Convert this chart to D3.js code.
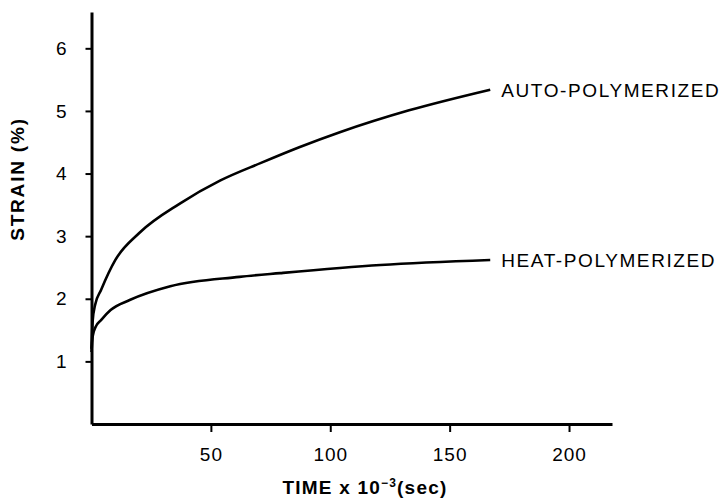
<!DOCTYPE html>
<html lang="en">
<head>
    <meta charset="UTF-8">
    <title>Strain vs Time</title>
    <script src="https://d3js.org/d3.v7.min.js"></script>
    <style>
        body { margin: 0; background: #fff; }
        text { font-family: "Liberation Sans", Arial, sans-serif; fill: #000; }
        .tick-label { font-size: 19px; letter-spacing: 1px; }
        .curve-label { font-size: 19px; letter-spacing: 1.6px; }
        .axis-title { font-size: 19px; font-weight: bold; letter-spacing: 1.2px; }
        .y-title { letter-spacing: 1.8px; }
    </style>
</head>
<body>
<div id="chart"></div>
<script>
    // time in 10^3 sec, strain in %
    const autoTime   = [0, 0.5, 1.5, 4, 10, 20, 37, 54, 71, 87, 104, 133, 167];
    const autoStrain = [1.2, 1.65, 1.9, 2.14, 2.62, 3.05, 3.52, 3.89, 4.17, 4.42, 4.66, 5.01, 5.34];

    const heatTime   = [0, 0.5, 1.7, 4, 8, 16, 33, 62, 79, 121, 167];
    const heatStrain = [1.15, 1.4, 1.55, 1.66, 1.82, 1.98, 2.2, 2.35, 2.41, 2.54, 2.62];

    const xTicks = [50, 100, 150, 200];
    const yTicks = [1, 2, 3, 4, 5, 6];
    const seriesNames = ["AUTO-POLYMERIZED", "HEAT-POLYMERIZED"];

    const width = 724, height = 498;

    const svg = d3.select("#chart")
        .append("svg")
        .attr("width", width)
        .attr("height", height);

    const x = d3.scaleLinear().domain([0, 218]).range([91.5, 612]);
    const y = d3.scaleLinear().domain([0, 6.58]).range([424, 12]);

    // x axis
    const xAxis = svg.append("g")
        .attr("transform", `translate(0,${y(0)})`)
        .call(d3.axisBottom(x).tickValues(xTicks).tickSize(8).tickSizeOuter(0).tickPadding(16));
    xAxis.select(".domain").attr("stroke", "#000").attr("stroke-width", 3);
    xAxis.selectAll(".tick line").attr("stroke", "#000").attr("stroke-width", 2);
    xAxis.selectAll(".tick text").attr("class", "tick-label").attr("font-size", null).attr("font-family", null);

    // y axis
    const yAxis = svg.append("g")
        .attr("transform", `translate(${x(0)},0)`)
        .call(d3.axisLeft(y).tickValues(yTicks).tickFormat(d3.format("d"))
            .tickSize(6).tickSizeOuter(0).tickPadding(18));
    yAxis.select(".domain").attr("stroke", "#000").attr("stroke-width", 3);
    yAxis.selectAll(".tick line").attr("stroke", "#000").attr("stroke-width", 2);
    yAxis.selectAll(".tick text").attr("class", "tick-label").attr("font-size", null).attr("font-family", null);

    // axis titles
    const xt = svg.append("text")
        .attr("class", "axis-title")
        .attr("x", 365)
        .attr("y", 494)
        .attr("text-anchor", "middle");
    xt.append("tspan").text("TIME x 10");
    xt.append("tspan").attr("dy", -7).attr("font-size", "12px").text("−3");
    xt.append("tspan").attr("dy", 7).text("(sec)");

    svg.append("text")
        .attr("class", "axis-title y-title")
        .attr("transform", "translate(24,179) rotate(-90)")
        .attr("text-anchor", "middle")
        .text("STRAIN (%)");

    // curves
    const line = d3.line()
        .x(d => x(d[0]))
        .y(d => y(d[1]))
        .curve(d3.curveMonotoneX);

    const series = [
        d3.zip(autoTime, autoStrain),
        d3.zip(heatTime, heatStrain)
    ];

    svg.selectAll(".curve")
        .data(series)
        .enter()
        .append("path")
        .attr("class", "curve")
        .attr("fill", "none")
        .attr("stroke", "#000")
        .attr("stroke-width", 2.6)
        .attr("d", line);

    // end labels
    svg.selectAll(".curve-label")
        .data(series)
        .enter()
        .append("text")
        .attr("class", "curve-label")
        .attr("x", d => x(d[d.length - 1][0]) + 11)
        .attr("y", d => y(d[d.length - 1][1]) + 7)
        .text((d, i) => seriesNames[i]);
</script>
</body>
</html>
